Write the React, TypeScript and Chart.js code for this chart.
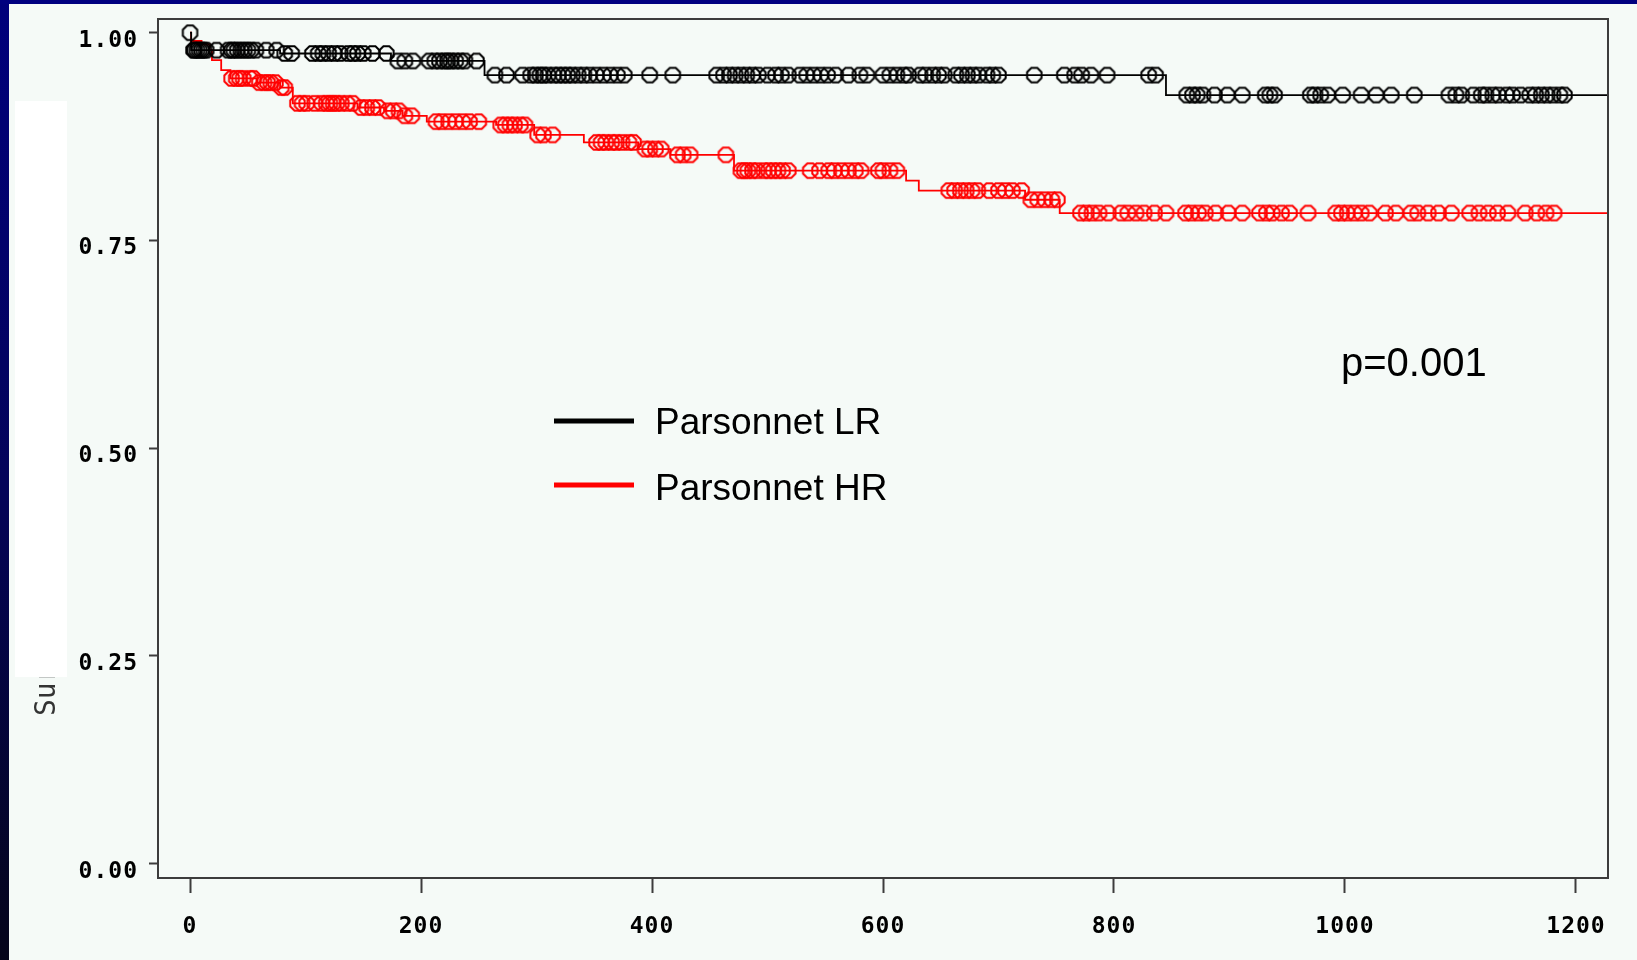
import React, { useEffect, useRef } from "react";
import { Chart, registerables } from "chart.js";

Chart.register(...registerables);

// ---------- data ----------
const xTickValues = [0, 200, 400, 600, 800, 1000, 1200];
const yTickValues = [0, 0.25, 0.5, 0.75, 1.0];

const seriesNames = ["Parsonnet LR", "Parsonnet HR"];
const pValueText = "p=0.001";
const yAxisTitle = "Sur";

// Kaplan-Meier steps, Parsonnet LR (low risk)
const lrStepTimes = [0, 1, 78, 174, 255, 845];
const lrStepSurv = [1.0, 0.979, 0.975, 0.966, 0.949, 0.925];
// censored observations, Parsonnet LR
const lrCensorTimes = [
  0, 3, 4, 6, 8, 10, 12, 14, 23, 33, 36, 38, 41, 44, 47, 50, 53, 57, 66, 75,
  82, 88, 106, 111, 115, 120, 125, 130, 137, 141, 145, 150, 158, 170,
  180, 186, 193, 207, 212, 216, 220, 223, 226, 230, 234, 238, 248,
  264, 274, 288, 295, 299, 303, 306, 310, 315, 319, 323, 327, 331, 336, 341, 346, 352, 358, 364, 370, 376,
  398, 418, 456, 462, 467, 472, 477, 482, 487, 492, 500, 507, 512, 518, 528, 534, 540, 546, 552, 559,
  570, 580, 586, 600, 606, 612, 618, 622, 632, 637, 643, 648, 653, 663, 668, 673, 678, 683, 690, 695, 700,
  731, 757, 766, 772, 780, 794, 830, 836,
  863, 868, 872, 877, 887, 898, 911, 931, 935, 939, 970, 974, 979, 985, 998, 1014, 1027, 1040, 1060,
  1090, 1096, 1101, 1111, 1118, 1122, 1128, 1133, 1140, 1145, 1152, 1160, 1165, 1170, 1175, 1180, 1186, 1190,
];

// Kaplan-Meier steps, Parsonnet HR (high risk)
const hrStepTimes = [0, 1, 10, 17, 19, 27, 35, 58, 78, 89, 145, 168, 184, 205, 265, 298, 341, 388, 416, 471, 620, 631, 723, 753];
const hrStepSurv = [1.0, 0.99, 0.986, 0.979, 0.967, 0.955, 0.945, 0.94, 0.934, 0.915, 0.91, 0.906, 0.9, 0.893, 0.889, 0.877, 0.868, 0.86, 0.853, 0.834, 0.822, 0.81, 0.799, 0.783];
// censored observations, Parsonnet HR
const hrCensorTimes = [
  36, 40, 43, 46, 52, 55, 60, 64, 67, 70, 74, 79, 82, 93, 97, 101, 108, 114, 118, 121, 124, 127, 131, 136, 141,
  148, 153, 158, 163, 171, 176, 181, 186, 192, 213, 218, 224, 230, 236, 242, 250, 269, 273, 277, 281, 286, 290,
  301, 306, 314, 352, 356, 360, 365, 369, 374, 380, 384, 394, 398, 403, 408, 422, 427, 433, 464,
  477, 480, 483, 487, 491, 497, 501, 505, 509, 513, 518, 537, 545, 553, 558, 564, 570, 576, 581, 596, 600, 606, 612,
  657, 662, 667, 672, 677, 682, 692, 700, 706, 712, 720, 728, 734, 740, 746, 751,
  771, 776, 781, 787, 795, 806, 812, 819, 826, 835, 845, 862, 867, 873, 879, 888, 899, 911, 926, 932, 937, 945, 952,
  968, 992, 997, 1002, 1008, 1014, 1021, 1035, 1044, 1057, 1063, 1072, 1081, 1092, 1108, 1116, 1124, 1132, 1141,
  1156, 1166, 1174, 1181,
];

const X_MIN = -27.71;
const X_MAX = 1227.71;
const Y_MIN = -0.0172;
const Y_MAX = 1.0165;

const LR_COLOR = "#000000";
const HR_COLOR = "#ff0000";
const BG = "#f5faf7";

// ---------- helpers ----------
function survAt(times: number[], surv: number[], t: number) {
  let v = surv[0];
  for (let i = 0; i < times.length; i++) if (times[i] <= t) v = surv[i];
  return v;
}
function stepPoints(times: number[], surv: number[]) {
  const pts = times.map((t, i) => ({ x: t, y: surv[i] }));
  pts.push({ x: X_MAX, y: surv[surv.length - 1] });
  return pts;
}
function censorPoints(ct: number[], times: number[], surv: number[]) {
  return ct.map((t) => ({ x: t, y: survAt(times, surv, t) }));
}
function octagon(color: string) {
  const s = 21;
  const c = document.createElement("canvas");
  c.width = s;
  c.height = s;
  const g = c.getContext("2d")!;
  const r = 7.8;
  g.beginPath();
  for (let i = 0; i < 8; i++) {
    const a = Math.PI / 8 + (i * Math.PI) / 4;
    const px = s / 2 + r * Math.cos(a);
    const py = s / 2 + r * Math.sin(a);
    if (i === 0) g.moveTo(px, py);
    else g.lineTo(px, py);
  }
  g.closePath();
  g.strokeStyle = color;
  g.lineWidth = 2;
  g.stroke();
  return c;
}

const decorPlugin = {
  id: "decor",
  beforeDraw(chart: any) {
    const ctx = chart.ctx as CanvasRenderingContext2D;
    const W = chart.width;
    const H = chart.height;
    ctx.save();
    ctx.fillStyle = BG;
    ctx.fillRect(0, 0, W, H);
    // dark slide border (left + top)
    const grad = ctx.createLinearGradient(0, 0, 0, H);
    grad.addColorStop(0, "#00007c");
    grad.addColorStop(0.5, "#04045a");
    grad.addColorStop(1, "#05051a");
    ctx.fillStyle = grad;
    ctx.fillRect(0, 0, 9, H);
    ctx.fillStyle = "#00007f";
    ctx.fillRect(0, 0, W, 4);
    // y-axis title fragment
    ctx.save();
    ctx.translate(55, 716);
    ctx.rotate(-Math.PI / 2);
    ctx.fillStyle = "#333333";
    ctx.font = "28px 'DejaVu Sans Mono'";
    ctx.textAlign = "left";
    ctx.textBaseline = "alphabetic";
    ctx.fillText(yAxisTitle, 0, 0);
    ctx.restore();
    // white panel covering the title
    ctx.fillStyle = "#ffffff";
    ctx.fillRect(15, 101, 52, 576);
    ctx.restore();
    (ctx as any).letterSpacing = "1px";
  },
  afterDatasetsDraw(chart: any) {
    const ctx = chart.ctx as CanvasRenderingContext2D;
    const a = chart.chartArea;
    ctx.save();
    ctx.strokeStyle = "#3c3c3c";
    ctx.lineWidth = 2;
    ctx.strokeRect(a.left, a.top, a.right - a.left, a.bottom - a.top);
    ctx.restore();
  },
  afterDraw(chart: any) {
    const ctx = chart.ctx as CanvasRenderingContext2D;
    ctx.save();
    (ctx as any).letterSpacing = "0px";
    const colors = [LR_COLOR, HR_COLOR];
    const lineY = [421, 485];
    const baseY = [434, 500];
    for (let i = 0; i < 2; i++) {
      ctx.fillStyle = colors[i];
      ctx.fillRect(554, lineY[i] - 2.5, 80, 5);
      ctx.fillStyle = "#000000";
      ctx.font = "37px 'Liberation Sans', Arial, sans-serif";
      ctx.textAlign = "left";
      ctx.textBaseline = "alphabetic";
      ctx.fillText(seriesNames[i], 655, baseY[i]);
    }
    ctx.font = "40px 'Liberation Sans', Arial, sans-serif";
    ctx.fillText(pValueText, 1341, 376);
    ctx.restore();
    (ctx as any).letterSpacing = "0px";
  },
};

export default function App() {
  const ref = useRef<HTMLCanvasElement | null>(null);
  useEffect(() => {
    if (!ref.current) return;
    const lrMark = octagon(LR_COLOR);
    const hrMark = octagon(HR_COLOR);
    const tickFont = { family: "'DejaVu Sans Mono', monospace", size: 23, weight: "bold" as const };
    const chart = new Chart(ref.current, {
      type: "line",
      data: {
        datasets: [
          {
            label: seriesNames[0] + " censored",
            data: censorPoints(lrCensorTimes, lrStepTimes, lrStepSurv),
            showLine: false,
            pointStyle: lrMark as any,
            pointRadius: 7.5,
            borderColor: LR_COLOR,
          },
          {
            label: seriesNames[0],
            data: stepPoints(lrStepTimes, lrStepSurv),
            stepped: "before",
            borderColor: LR_COLOR,
            borderWidth: 1.8,
            pointRadius: 0,
            fill: false,
          },
          {
            label: seriesNames[1] + " censored",
            data: censorPoints(hrCensorTimes, hrStepTimes, hrStepSurv),
            showLine: false,
            pointStyle: hrMark as any,
            pointRadius: 7.5,
            borderColor: HR_COLOR,
          },
          {
            label: seriesNames[1],
            data: stepPoints(hrStepTimes, hrStepSurv),
            stepped: "before",
            borderColor: HR_COLOR,
            borderWidth: 1.8,
            pointRadius: 0,
            fill: false,
          },
        ],
      },
      options: {
        animation: false,
        responsive: false,
        devicePixelRatio: 1,
        events: [],
        layout: { padding: { left: 0, top: 19, right: 29, bottom: 0 } },
        plugins: { legend: { display: false }, tooltip: { enabled: false } },
        scales: {
          x: {
            type: "linear",
            min: X_MIN,
            max: X_MAX,
            afterBuildTicks: (s: any) => {
              s.ticks = xTickValues.map((v) => ({ value: v }));
            },
            afterFit: (s: any) => {
              s.height = 82;
              s.paddingLeft = 0;
              s.paddingRight = 0;
              s.paddingTop = 0;
              s.paddingBottom = 0;
            },
            border: { display: false },
            grid: {
              display: true,
              drawOnChartArea: false,
              drawTicks: true,
              tickLength: 15,
              tickColor: "#3c3c3c",
              tickWidth: 2,
            },
            ticks: {
              color: "#000000",
              font: tickFont,
              padding: 20,
              maxRotation: 0,
              autoSkip: false,
              callback: (v: any) => String(v),
            },
          },
          y: {
            type: "linear",
            min: Y_MIN,
            max: Y_MAX,
            afterBuildTicks: (s: any) => {
              s.ticks = yTickValues.map((v) => ({ value: v }));
            },
            afterFit: (s: any) => {
              s.width = 158;
              s.paddingTop = 0;
              s.paddingBottom = 0;
              s.paddingLeft = 0;
              s.paddingRight = 0;
            },
            border: { display: false },
            grid: {
              display: true,
              drawOnChartArea: false,
              drawTicks: true,
              tickLength: 9,
              tickColor: "#3c3c3c",
              tickWidth: 2,
            },
            ticks: {
              color: "#000000",
              font: tickFont,
              padding: 11,
              labelOffset: 8,
              autoSkip: false,
              callback: (v: any) => Number(v).toFixed(2),
            },
          },
        },
      },
      plugins: [decorPlugin],
    });
    return () => chart.destroy();
  }, []);
  return (
    <div style={{ position: "fixed", left: 0, top: 0, width: 1637, height: 960, overflow: "hidden" }}>
      <canvas ref={ref} width={1637} height={960} style={{ width: 1637, height: 960, display: "block" }} />
    </div>
  );
}
